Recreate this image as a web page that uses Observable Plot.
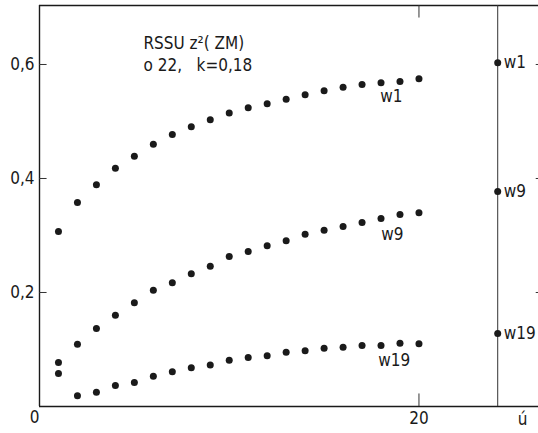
<!DOCTYPE html>
<html>
<head>
<meta charset="utf-8">
<script src="https://cdn.jsdelivr.net/npm/d3@7"></script>
<script src="https://cdn.jsdelivr.net/npm/@observablehq/plot@0.6"></script>
<style>
  html, body { margin: 0; padding: 0; background: #fff; }
  #chart svg { display: block; }
</style>
</head>
<body>
<div id="chart"></div>
<script>
// ---- data ----
const xValues = [1,2,3,4,5,6,7,8,9,10,11,12,13,14,15,16,17,18,19,20];
const w1 = [0.307,0.358,0.389,0.418,0.439,0.460,0.477,0.491,0.503,0.515,0.524,0.531,0.539,0.547,0.554,0.560,0.565,0.568,0.570,0.575];
const w9 = [0.077,0.109,0.137,0.160,0.182,0.204,0.217,0.233,0.246,0.263,0.272,0.282,0.291,0.302,0.309,0.316,0.323,0.330,0.337,0.340];
const w19 = [0.058,0.019,0.025,0.037,0.042,0.053,0.061,0.068,0.073,0.081,0.086,0.089,0.095,0.098,0.102,0.104,0.107,0.107,0.111,0.110];

const seriesNames = ["w1", "w9", "w19"];
const limitValues = [0.603, 0.377, 0.128];      // values at the "ú" line
const limitX = 24.15;                            // position of the "ú" limit line on x
const seriesLabelX = [18.55, 18.6, 18.7];
const seriesLabelY = [0.544, 0.302, 0.081];

const yTicks = [0.2, 0.4, 0.6];
const xTicks = [20];
const xDomain = [0, 26.3];
const yDomain = [0, 0.7035];

const titleLines = ["RSSU z\u00B2( ZM)", "o 22,   k=0,18"];
const titleX = 5.48;
const titleY = [0.637, 0.598];
const originLabel = "0";
const xEndLabel = "\u00FA";

// ---- build tables ----
const points = [];
[w1, w9, w19].forEach((arr, i) => arr.forEach((v, j) => points.push({x: xValues[j], y: v, s: seriesNames[i]})));
const limits = seriesNames.map((s, i) => ({s, y: limitValues[i]}));
const seriesLabels = seriesNames.map((s, i) => ({s, x: seriesLabelX[i], y: seriesLabelY[i]}));
const titles = titleLines.map((t, i) => ({t, y: titleY[i]}));

const fmt = d => d.toFixed(1).replace(".", ",");
const tickLen = 0.4;     // inward tick length in x units
const tickLenY = 0.022;  // inward tick length in y units
const ink = "#1a1a1a";

const chart = Plot.plot({
  width: 538,
  height: 433,
  marginLeft: 39,
  marginRight: 0,
  marginTop: 5,
  marginBottom: 27,
  style: {fontFamily: "'Liberation Sans Narrow', 'DejaVu Sans Condensed', 'DejaVu Sans', sans-serif", fontSize: "17px", color: ink, background: "#fff"},
  x: {domain: xDomain, label: null},
  y: {domain: yDomain, label: null},
  marks: [
    // frame
    Plot.ruleX([xDomain[0]], {stroke: ink, strokeWidth: 1.4}),
    Plot.ruleY([yDomain[0]], {stroke: ink, strokeWidth: 1.4}),
    Plot.ruleY([yDomain[1]], {stroke: ink, strokeWidth: 1.4}),
    Plot.ruleX([limitX], {stroke: "#333", strokeWidth: 1}),
    // inward ticks
    Plot.ruleY(yTicks, {x1: xDomain[0], x2: xDomain[0] + tickLen, stroke: "#333"}),
    Plot.ruleY(yTicks, {x1: xDomain[1] - 0.12, x2: xDomain[1], stroke: "#333"}),
    Plot.ruleX(xTicks, {y1: yDomain[0], y2: yDomain[0] + tickLenY, stroke: "#333"}),
    Plot.ruleX(xTicks, {y1: yDomain[1], y2: yDomain[1] - tickLenY, stroke: "#333"}),
    // axes labels
    Plot.axisY({ticks: yTicks, tickSize: 0, tickPadding: 5, tickFormat: fmt, fontSize: 17, label: null}),
    Plot.axisX({ticks: xTicks, tickSize: 0, tickPadding: 5, fontSize: 17, label: null}),
    Plot.text([originLabel], {x: xDomain[0], y: yDomain[0], text: d => d, dx: -5, dy: 11, fontSize: 17}),
    Plot.text([xEndLabel], {x: xDomain[1], y: yDomain[0], text: d => d, dx: -16, dy: 13, fontSize: 17}),
    // data
    Plot.dot(points, {x: "x", y: "y", r: 3.5, fill: ink, stroke: "none"}),
    Plot.dot(limits, {x: limitX, y: "y", r: 3.5, fill: ink, stroke: "none"}),
    Plot.text(limits, {x: limitX, y: "y", text: "s", dx: 6, textAnchor: "start", fontSize: 17}),
    Plot.text(seriesLabels, {x: "x", y: "y", text: "s", fontSize: 17}),
    Plot.text(titles, {x: titleX, y: "y", text: "t", textAnchor: "start", fontSize: 17})
  ]
});
document.getElementById("chart").appendChild(chart);
</script>
</body>
</html>
